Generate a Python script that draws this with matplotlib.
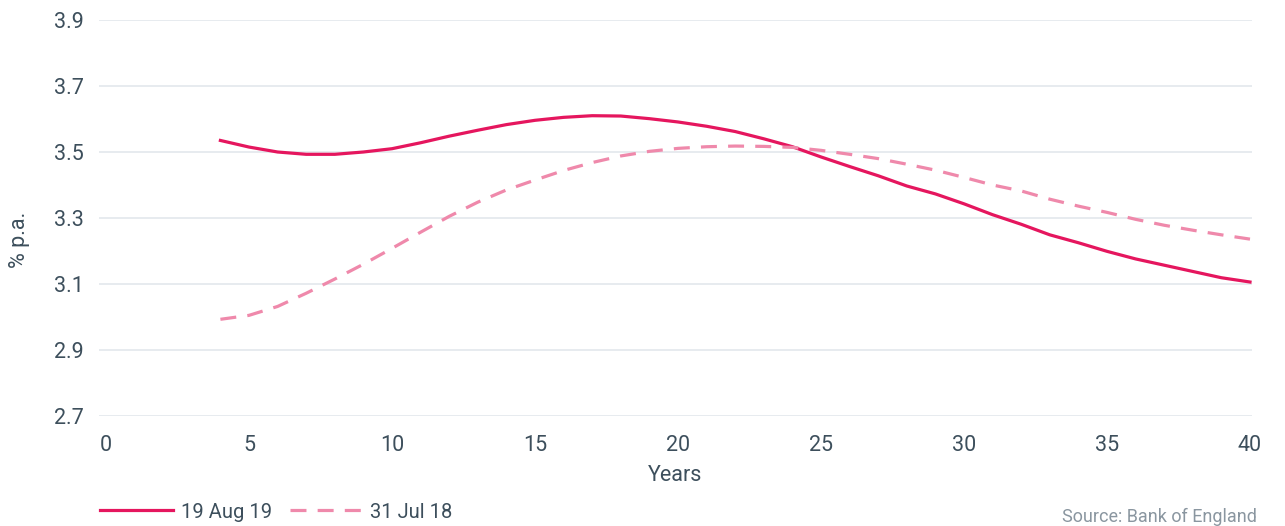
import numpy as np
import matplotlib
matplotlib.use("Agg")
import matplotlib.pyplot as plt

# yield curve readings (years to maturity, % p.a.)
years = [4, 5, 6, 7, 8, 9, 10, 11, 12, 13, 14, 15, 16, 17, 18, 19, 20, 21, 22,
         23, 24, 25, 26, 27, 28, 29, 30, 31, 32, 33, 34, 35, 36, 37, 38, 39, 40]
aug19 = [3.535, 3.515, 3.500, 3.493, 3.493, 3.500, 3.510, 3.528, 3.548, 3.566,
         3.583, 3.596, 3.605, 3.610, 3.609, 3.601, 3.591, 3.578, 3.562, 3.540,
         3.516, 3.485, 3.456, 3.428, 3.397, 3.373, 3.343, 3.310, 3.281, 3.249,
         3.225, 3.199, 3.176, 3.157, 3.138, 3.119, 3.106]
jul18 = [2.993, 3.005, 3.032, 3.072, 3.115, 3.160, 3.208, 3.257, 3.305, 3.348,
         3.385, 3.415, 3.444, 3.468, 3.488, 3.502, 3.511, 3.516, 3.518, 3.517,
         3.514, 3.505, 3.493, 3.480, 3.463, 3.445, 3.423, 3.400, 3.382, 3.357,
         3.336, 3.317, 3.296, 3.278, 3.263, 3.249, 3.236]
labels = ["19 Aug 19", "31 Jul 18"]
yticks = [2.7, 2.9, 3.1, 3.3, 3.5, 3.7, 3.9]
xticks = [0, 5, 10, 15, 20, 25, 30, 35, 40]

text_col = "#3d4f5c"
plt.rcParams["font.family"] = ["Roboto", "DejaVu Sans"]
fs = 15.5

W, H = 1285, 526
fig = plt.figure(figsize=(W / 100, H / 100), dpi=100)
ax = fig.add_axes([99 / W, 1 - 416 / H, (1252 - 99) / W, (416 - 20) / H])

l1, = ax.plot(years, aug19, color="#e5165e", lw=2.3, label=labels[0])
l2, = ax.plot(years, jul18, color="#ef89ab", lw=2.3, ls=(0, (5, 3.5)), label=labels[1])

ax.set_xlim(-0.245, 40.07)
ax.set_ylim(2.7, 3.9)
ax.set_yticks(yticks)
ax.set_yticklabels([f"{v:.1f}" for v in yticks])
ax.set_xticks(xticks)
ax.grid(axis="y", color="#e3e8ec", lw=1.2)
ax.set_axisbelow(True)
for s in ax.spines.values():
    s.set_visible(False)
ax.tick_params(length=0, labelsize=fs, colors=text_col)
ax.tick_params(axis="y", pad=11)
ax.tick_params(axis="x", pad=14)

ax.set_xlabel("Years", fontsize=fs, color=text_col, labelpad=6)
fig.text(19 / W, 1 - 240 / H, "% p.a.", rotation=90, fontsize=fs,
         color=text_col, ha="center", va="center")

fig.legend(handles=[l1, l2], loc="center left", bbox_to_anchor=(100 / W, 1 - 512 / H),
           ncol=2, frameon=False, fontsize=14.5, handlelength=3.6,
           handletextpad=0.4, columnspacing=0.9, borderpad=0, borderaxespad=0,
           labelcolor=text_col)
fig.text(1257 / W, 1 - 517 / H, "Source: Bank of England", fontsize=13,
         color="#8a96a0", ha="right", va="center")

fig.savefig("out.png", dpi=100)
